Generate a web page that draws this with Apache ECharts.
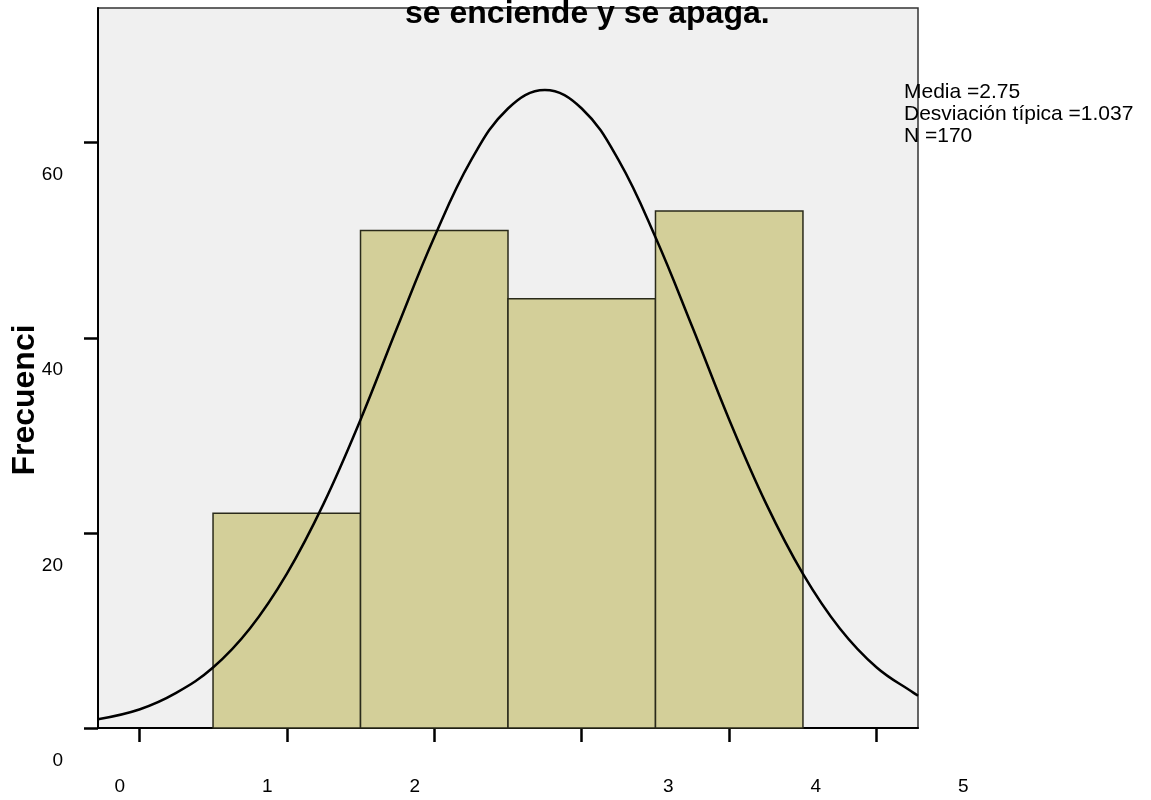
<!DOCTYPE html>
<html>
<head>
<meta charset="utf-8">
<script src="https://cdn.jsdelivr.net/npm/echarts@6/dist/echarts.min.js"></script>
<style>
  html, body { margin: 0; padding: 0; background: #fff; }
  #chart { width: 1151px; height: 800px; }
</style>
</head>
<body>
<div id="chart"></div>
<script>
// histogram bins (value centre) and counts
const binCenters = [1, 2, 3, 4];
const binCounts = [22, 51, 44, 53];

// normal curve
const curveX = [-0.28, 0, 0.25, 0.5, 0.75, 1, 1.25, 1.5, 1.75, 2, 2.25, 2.5, 2.75,
  3, 3.25, 3.5, 3.75, 4, 4.25, 4.5, 4.75, 5, 5.25, 5.28];
const curveY = [0.9, 1.9, 3.6, 6.2, 10.2, 15.8, 23.0, 31.6, 41.1, 50.3, 58.2, 63.5, 65.4,
  63.5, 58.2, 50.3, 41.1, 31.6, 23.0, 15.8, 10.2, 6.2, 3.6, 3.3];

const xTicks = [0, 1, 2, 3, 4, 5];
const xTickLabels = ['0', '1', '2', '3', '4', '5'];
const yTicks = [0, 20, 40, 60];
const yTickLabels = ['0', '20', '40', '60'];

const statLines = ['Media =2.75', 'Desviación típica =1.037', 'N =170'];
const titleText = 'se enciende y se apaga.';
const yName = 'Frecuenci';

const font = '"Liberation Sans", Arial, Helvetica, sans-serif';

const chart = echarts.init(document.getElementById('chart'), null, { renderer: 'canvas' });

chart.setOption({
  animation: false,
  backgroundColor: '#fff',
  title: {
    text: titleText,
    left: 405,
    top: -2,
    padding: 0,
    z: 10,
    textStyle: { fontFamily: font, fontSize: 32, fontWeight: 'bold', color: '#000' }
  },
  grid: {
    left: 98, top: 8, right: 233, bottom: 72,
    show: true,
    backgroundColor: '#f0f0f0',
    borderColor: '#333',
    borderWidth: 1.5
  },
  xAxis: {
    type: 'value',
    min: -0.28,
    max: 5.28,
    splitLine: { show: false },
    axisLine: { onZero: false, lineStyle: { color: '#000', width: 2 } },
    axisTick: { customValues: xTicks, length: 14, lineStyle: { color: '#000', width: 2.5 } },
    axisLabel: {
      customValues: xTicks,
      margin: 49,
      color: '#000',
      fontFamily: font,
      fontSize: 19,
      formatter: function (v) {
        const i = xTicks.indexOf(v);
        const t = xTickLabels[i];
        return i <= 2 ? '{l|' + t + '}' : '{r|' + t + '}';
      },
      rich: {
        l: { fontFamily: font, fontSize: 19, color: '#000', padding: [0, 39, 0, 0] },
        r: { fontFamily: font, fontSize: 19, color: '#000', padding: [0, 0, 0, 173] }
      }
    }
  },
  yAxis: {
    type: 'value',
    min: 0,
    max: 73.8,
    splitLine: { show: false },
    axisLine: { show: true, onZero: false, lineStyle: { color: '#000', width: 2 } },
    axisTick: { show: true, customValues: yTicks, length: 14, lineStyle: { color: '#000', width: 2.5 } },
    axisLabel: {
      customValues: yTicks,
      margin: 35,
      color: '#000',
      fontFamily: font,
      fontSize: 19,
      verticalAlign: 'top',
      padding: [23, 0, 0, 0],
      formatter: function (v) { return yTickLabels[yTicks.indexOf(v)]; }
    }
  },
  graphic: [
    {
      type: 'text',
      x: 25, y: 400,
      rotation: Math.PI / 2,
      style: {
        text: yName,
        fill: '#000',
        font: 'bold 32px ' + font,
        textAlign: 'center',
        textVerticalAlign: 'middle'
      }
    },
    {
      type: 'text',
      left: 904, top: 81,
      style: {
        text: statLines.join('\n'),
        fill: '#000',
        font: '21px ' + font,
        lineHeight: 22
      }
    }
  ],
  series: [
    {
      type: 'custom',
      data: binCenters.map((c, i) => [c, binCounts[i]]),
      renderItem: function (params, api) {
        const topLeft = api.coord([api.value(0) - 0.5, api.value(1)]);
        const bottomRight = api.coord([api.value(0) + 0.5, 0]);
        return {
          type: 'rect',
          shape: {
            x: topLeft[0], y: topLeft[1],
            width: bottomRight[0] - topLeft[0],
            height: bottomRight[1] - topLeft[1]
          },
          style: { fill: '#d3cf99', stroke: '#2a2a1a', lineWidth: 1.5 }
        };
      },
      z: 2
    },
    {
      type: 'line',
      data: curveX.map((x, i) => [x, curveY[i]]),
      smooth: 0.4,
      showSymbol: false,
      lineStyle: { color: '#000', width: 2.5 },
      z: 3
    }
  ]
});
</script>
</body>
</html>
